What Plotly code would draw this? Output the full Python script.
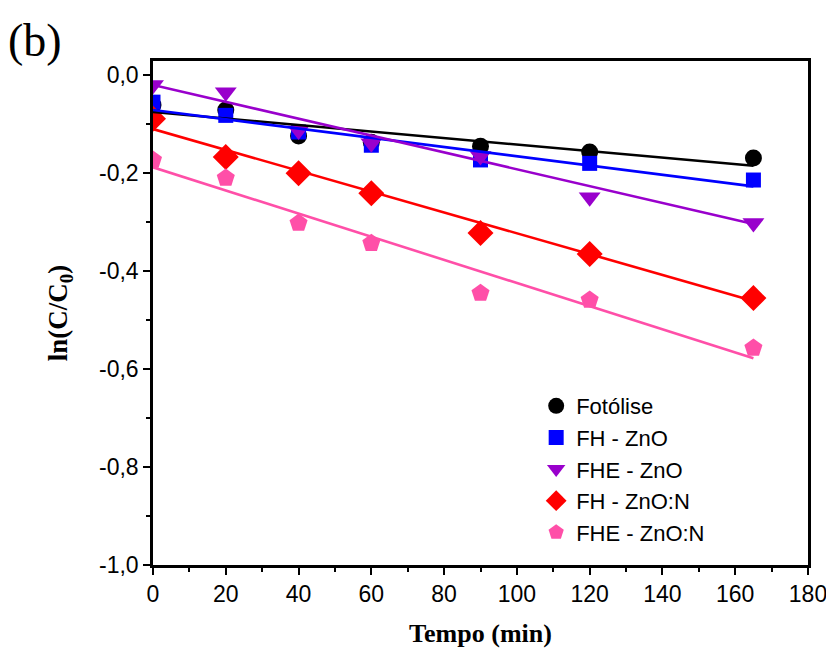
import plotly.graph_objects as go

tempo = [0, 20, 40, 60, 90, 120, 165]
series_names = ["Fotólise", "FH - ZnO", "FHE - ZnO", "FH - ZnO:N", "FHE - ZnO:N"]
fotolise = [-0.061, -0.071, -0.124, -0.137, -0.145, -0.157, -0.169]
fh_zno = [-0.055, -0.082, -0.116, -0.143, -0.173, -0.180, -0.214]
fhe_zno = [-0.020, -0.035, -0.113, -0.139, -0.165, -0.249, -0.302]
fh_zno_n = [-0.089, -0.167, -0.200, -0.241, -0.322, -0.365, -0.455]
fhe_zno_n = [-0.173, -0.210, -0.302, -0.343, -0.445, -0.459, -0.557]

# linear fit lines: value at t=0 and at t=165
fit_t = [0, 165]
fit_start = [-0.075, -0.071, -0.020, -0.110, -0.188]
fit_end = [-0.185, -0.227, -0.304, -0.461, -0.578]

x_ticks = [0, 20, 40, 60, 80, 100, 120, 140, 160, 180]
y_ticks = [0.0, -0.2, -0.4, -0.6, -0.8, -1.0]
y_tick_labels = ["0,0", "-0,2", "-0,4", "-0,6", "-0,8", "-1,0"]

values = [fotolise, fh_zno, fhe_zno, fh_zno_n, fhe_zno_n]
colors = ["#000000", "#0000FF", "#9900CC", "#FF0000", "#FF4FA8"]
symbols = ["circle", "square", "triangle-down", "diamond", "pentagon"]
sizes = [17, 15, 19, 20, 19]

fig = go.Figure()
for name, ys, c, s, sz in zip(series_names, values, colors, symbols, sizes):
    fig.add_trace(go.Scatter(x=tempo, y=ys, mode="markers", name=name,
                             marker=dict(symbol=s, color=c, size=sz, line=dict(width=0))))
for a, b, c in zip(fit_start, fit_end, colors):
    fig.add_trace(go.Scatter(x=fit_t, y=[a, b], mode="lines", showlegend=False,
                             line=dict(color=c, width=2.6), hoverinfo="skip"))

axis_common = dict(showline=True, linecolor="black", linewidth=2.5, mirror=True,
                   ticks="outside", ticklen=7, tickwidth=2, tickcolor="black",
                   showgrid=False, zeroline=False, automargin=False,
                   tickfont=dict(family="Liberation Sans, Arial", size=23, color="black"))

fig.update_layout(
    width=826, height=643,
    paper_bgcolor="white", plot_bgcolor="white",
    margin=dict(l=145, r=26, t=53, b=86),
    xaxis=dict(range=[0, 180], tickvals=x_ticks,
               minor=dict(dtick=10, ticks="outside", ticklen=4, tickwidth=2, tickcolor="black"),
               title=dict(text="<b>Tempo (min)</b>", standoff=18,
                          font=dict(family="Liberation Serif, Times New Roman", size=26, color="black")),
               **axis_common),
    yaxis=dict(range=[-1.0, 0.029], tickvals=y_ticks, ticktext=y_tick_labels,
               minor=dict(dtick=0.1, ticks="outside", ticklen=4, tickwidth=2, tickcolor="black"),
               title=dict(text="<b>ln(C/C<sub>0</sub>)</b>", standoff=24,
                          font=dict(family="Liberation Serif, Times New Roman", size=27, color="black")),
               **axis_common),
    legend=dict(x=0.585, y=0.357, xanchor="left", yanchor="top",
                bgcolor="rgba(0,0,0,0)", borderwidth=0,
                font=dict(family="Liberation Sans, Arial", size=22, color="black"),
                itemsizing="trace"),
    annotations=[dict(text="(b)", xref="paper", yref="paper", x=-0.225, y=1.095,
                      xanchor="left", yanchor="top", showarrow=False,
                      font=dict(family="Liberation Serif, Times New Roman", size=46, color="black"))],
)

fig.write_html("out.html")
